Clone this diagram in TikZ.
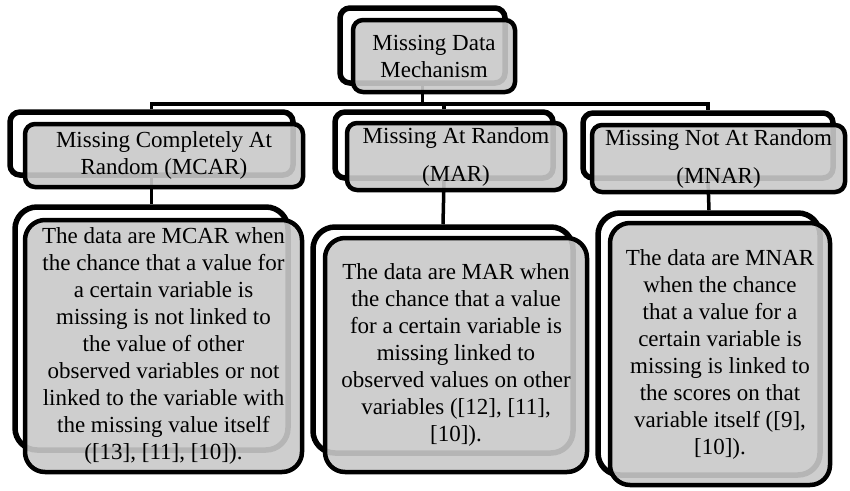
\documentclass[tikz,border=0pt]{standalone}
\usepackage{fontspec}
\setmainfont{Liberation Serif}
\definecolor{boxgray}{RGB}{201,201,201}

\begin{document}
\begin{tikzpicture}[x=1pt,y=-1pt,
    backbox/.style={draw,line width=5.5pt,rounded corners=10pt,fill=white,inner sep=0pt},
    frontbox/.style={draw,line width=4.5pt,rounded corners=10pt,fill=boxgray,
                     fill opacity=0.9,text opacity=1,inner sep=0pt,align=center,
                     font=\fontsize{23}{27}\selectfont},
    descback/.style={backbox,rounded corners=22pt},
    descfront/.style={frontbox,rounded corners=20pt},
    link/.style={line width=3.5pt}]

        \useasboundingbox (0,0) rectangle (850,490);

        \node[backbox,minimum width=165pt,minimum height=75pt] (topback) at (422.5,45.5) {};
        \node[backbox,minimum width=283pt,minimum height=63pt] (mcarback) at (151.5,143.5) {};
        \node[backbox,minimum width=218pt,minimum height=66pt] (marback) at (444,145) {};
        \node[backbox,minimum width=250pt,minimum height=65pt] (mnarback) at (708,145.5) {};
        \node[descback,minimum width=273pt,minimum height=243pt] (mcardback) at (151.5,328.5) {};
        \node[descback,minimum width=260pt,minimum height=226pt] (mardback) at (443,340) {};
        \node[descback,minimum width=222pt,minimum height=262pt] (mnardback) at (709,344) {};

        \coordinate (bus) at (0,104);
        \draw[link] (topback.south) -- (topback.south |- bus);
        \draw[link] (mcarback.north) -- (mcarback.north |- bus)
                    -- (mnarback.north |- bus) -- (mnarback.north);
        \draw[link] (marback.north) -- (marback.north |- bus);
        \draw[link] (mcarback.south) -- (mcardback.north);
        \draw[link] (marback.south) -- (mardback.north);
        \draw[link] (mnarback.south) -- (mnardback.north);

        \node[frontbox,minimum width=162pt,minimum height=72pt] (top) at (434,56)
            {Missing Data\\Mechanism};
        \node[frontbox,minimum width=278pt,minimum height=63pt] (mcar) at (164,155.5)
            {Missing Completely At\\Random (MCAR)};
        \node[frontbox,minimum width=218pt,minimum height=67pt] (mar) at (456,156.5)
            {Missing At Random\\[11pt](MAR)};
        \node[frontbox,minimum width=253pt,minimum height=67pt] (mnar) at (718.5,158.5)
            {Missing Not At Random\\[11pt](MNAR)};

        \node[descfront,minimum width=277pt,minimum height=252pt] (mcard) at (163.5,346)
            {The data are MCAR when\\the chance that a value for\\a certain variable is\\
             missing is not linked to\\the value of other\\observed variables or not\\
             linked to the variable with\\the missing value itself\\([13], [11], [10]).};
        \node[descfront,minimum width=262pt,minimum height=234pt] (mard) at (456,355)
            {The data are MAR when\\the chance that a value\\for a certain variable is\\
             missing linked to\\observed values on other\\variables ([12], [11],\\{}[10]).};
        \node[descfront,minimum width=220pt,minimum height=262pt] (mnard) at (720,354)
            {The data are MNAR\\when the chance\\that a value for a\\certain variable is\\
             missing is linked to\\the scores on that\\variable itself ([9],\\{}[10]).};

\end{tikzpicture}
\end{document}
